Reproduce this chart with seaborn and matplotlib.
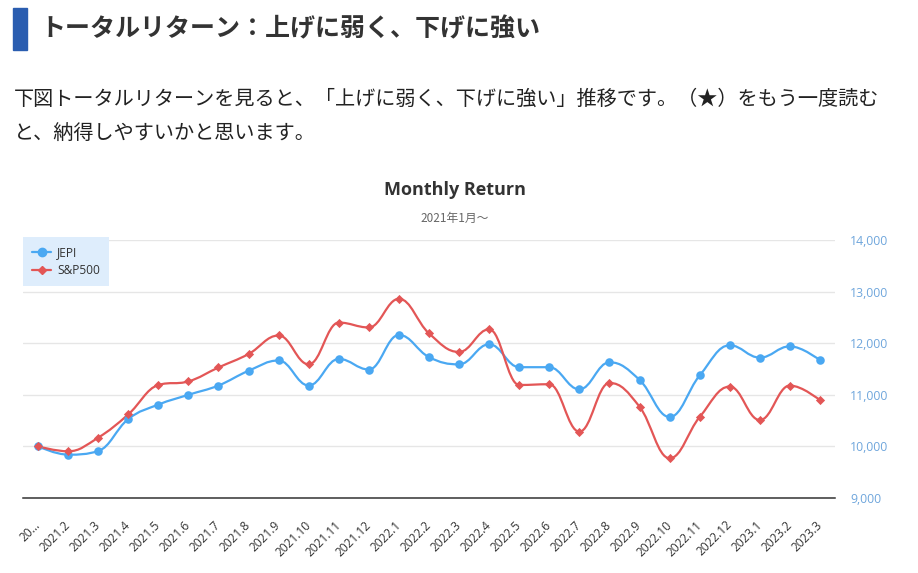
import numpy as np
import pandas as pd
import matplotlib
matplotlib.use("Agg")
import matplotlib.pyplot as plt
from matplotlib.path import Path
from matplotlib.patches import PathPatch, Rectangle
from matplotlib.lines import Line2D
import seaborn as sns

# data
months = ["2021.1", "2021.2", "2021.3", "2021.4", "2021.5", "2021.6", "2021.7", "2021.8", "2021.9",
          "2021.10", "2021.11", "2021.12", "2022.1", "2022.2", "2022.3", "2022.4", "2022.5", "2022.6",
          "2022.7", "2022.8", "2022.9", "2022.10", "2022.11", "2022.12", "2023.1", "2023.2", "2023.3"]
tick_labels = ["20…"] + months[1:]
jepi = [10000, 9840, 9910, 10530, 10810, 11000, 11180, 11465, 11665, 11180, 11695, 11490, 12160,
        11730, 11590, 11980, 11535, 11535, 11105, 11630, 11290, 10570, 11375, 11960, 11720, 11940, 11670]
sp500 = [10000, 9905, 10170, 10620, 11190, 11260, 11530, 11790, 12150, 11590, 12400, 12305, 12860,
         12190, 11830, 12270, 11190, 11205, 10285, 11230, 10770, 9770, 10570, 11160, 10510, 11180, 10895]
y_ticks = [9000, 10000, 11000, 12000, 13000, 14000]

df = pd.DataFrame({"pos": np.arange(len(months)), "JEPI": jepi, "S&P500": sp500})

blue = "#4aa8f2"
red = "#e35656"

sns.set_theme(style="white")
plt.rcParams["font.family"] = ["Noto Sans CJK JP", "DejaVu Sans"]

W, H = 918, 573
fig = plt.figure(figsize=(W / 100, H / 100), dpi=100)


def fx(px):
    return px / W


def fy(py):
    return 1 - py / H


def spline_path(xs, ys):
    # highcharts-like smooth spline through the points
    xs = np.asarray(xs, float)
    ys = np.asarray(ys, float)
    n = len(xs)
    sm, den = 1.5, 2.5
    lc = [(xs[0], ys[0])] * n
    rc = [(xs[0], ys[0])] * n
    for i in range(1, n - 1):
        x, y = xs[i], ys[i]
        px_, py_ = xs[i - 1], ys[i - 1]
        nx_, ny_ = xs[i + 1], ys[i + 1]
        lx = (sm * x + px_) / den
        ly = (sm * y + py_) / den
        rx = (sm * x + nx_) / den
        ry = (sm * y + ny_) / den
        if rx != lx:
            corr = ((ry - ly) * (rx - x)) / (rx - lx) + y - ry
            ly += corr
            ry += corr
        if ly > py_ and ly > y:
            ly = max(py_, y)
            ry = 2 * y - ly
        elif ly < py_ and ly < y:
            ly = min(py_, y)
            ry = 2 * y - ly
        if ry > ny_ and ry > y:
            ry = max(ny_, y)
            ly = 2 * y - ry
        elif ry < ny_ and ry < y:
            ry = min(ny_, y)
            ly = 2 * y - ry
        lc[i] = (lx, ly)
        rc[i] = (rx, ry)
    rc[0] = (xs[0], ys[0])
    lc[n - 1] = (xs[-1], ys[-1])
    verts = [(xs[0], ys[0])]
    codes = [Path.MOVETO]
    for i in range(1, n):
        verts += [rc[i - 1], lc[i], (xs[i], ys[i])]
        codes += [Path.CURVE4] * 3
    return Path(verts, codes)


# header
fig.patches.append(Rectangle((fx(13), fy(50)), fx(14), 42 / H, transform=fig.transFigure,
                             color="#2a5db0", zorder=1))
fig.text(fx(40), fy(29), "トータルリターン：上げに弱く、下げに強い", fontsize=18,
         fontweight="bold", color="#333333", va="center", ha="left")
fig.text(fx(14), fy(99), "下図トータルリターンを見ると、「上げに弱く、下げに強い」推移です。（★）をもう一度読む",
         fontsize=14.5, color="#222222", va="center", ha="left")
fig.text(fx(14), fy(134), "と、納得しやすいかと思います。", fontsize=14.5, color="#222222",
         va="center", ha="left")
fig.text(fx(455), fy(190), "Monthly Return", fontsize=13, fontweight="bold", color="#333333",
         va="center", ha="center", family=["Open Sans", "DejaVu Sans"])
fig.text(fx(455), fy(218), "2021年1月～", fontsize=8.5, color="#666666", va="center", ha="center")

ax = fig.add_axes([fx(23), fy(498), fx(835 - 23), (498 - 240) / H])

ax.add_patch(PathPatch(spline_path(df["pos"], df["JEPI"]), fill=False, edgecolor=blue,
                       lw=1.6, zorder=3))
ax.add_patch(PathPatch(spline_path(df["pos"], df["S&P500"]), fill=False, edgecolor=red,
                       lw=1.6, zorder=3))
sns.scatterplot(data=df, x="pos", y="JEPI", ax=ax, color=blue, marker="o", s=38,
                edgecolor=blue, linewidth=0, zorder=4)
sns.scatterplot(data=df, x="pos", y="S&P500", ax=ax, color=red, marker="D", s=22,
                edgecolor=red, linewidth=0, zorder=4)

ax.set_xlim(-0.5, len(months) - 0.5)
ax.set_ylim(9000, 14000)
ax.set_xticks(df["pos"])
ax.set_xticklabels(tick_labels, rotation=45, ha="right", va="center", rotation_mode="anchor",
                   fontsize=8.6, color="#333333", family=["Open Sans", "DejaVu Sans"])
ax.tick_params(axis="x", length=0, pad=18)
ax.yaxis.tick_right()
ax.set_yticks(y_ticks)
ax.set_yticklabels([f"{v:,}" for v in y_ticks], fontsize=8.8, color="#6fa6dc",
                   family=["Open Sans", "DejaVu Sans"])
ax.tick_params(axis="y", length=0, pad=11)
ax.set_xlabel("")
ax.set_ylabel("")
ax.grid(axis="y", color="#e6e6e6", lw=1)
ax.set_axisbelow(True)
for side in ["top", "left", "right"]:
    ax.spines[side].set_visible(False)
ax.spines["bottom"].set_color("#333333")
ax.spines["bottom"].set_linewidth(1.1)

handles = [Line2D([], [], color=blue, marker="o", markersize=6, lw=1.6, label="JEPI"),
           Line2D([], [], color=red, marker="D", markersize=4.5, lw=1.6, label="S&P500")]
leg = ax.legend(handles=handles, loc="upper left", bbox_to_anchor=(fx(23), fy(237)),
                bbox_transform=fig.transFigure, borderaxespad=0, frameon=True, fancybox=False,
                handlelength=1.6, handletextpad=0.5, borderpad=0.75, labelspacing=0.45,
                prop={"family": ["Open Sans", "DejaVu Sans"], "size": 8.6})
leg.get_frame().set_facecolor("#deedfc")
leg.get_frame().set_edgecolor("none")
leg.get_frame().set_alpha(1)
for t in leg.get_texts():
    t.set_color("#333333")

fig.savefig("out.png", dpi=100)
